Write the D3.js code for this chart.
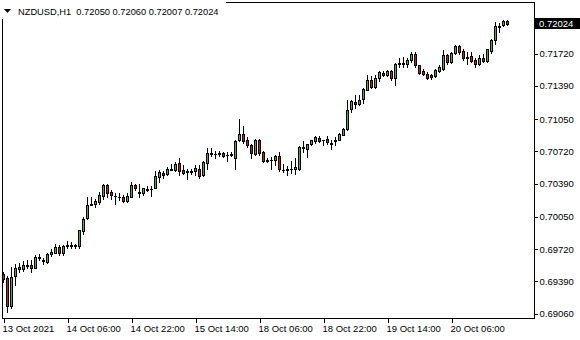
<!DOCTYPE html>
<html>
<head>
<meta charset="utf-8">
<script src="https://cdn.jsdelivr.net/npm/d3@7"></script>
<style>
  body { margin: 0; background: #fff; }
  svg { display: block; font-family: 'Liberation Sans', Arial, sans-serif; }
</style>
</head>
<body>
<svg id="chart"></svg>
<script>
// NZDUSD H1 bars, 13 Oct 14:00 .. 20 Oct 20:00
var opens = [0.69462,0.69426,0.69135,0.69442,0.69518,0.69518,0.69549,0.69559,0.69528,0.69631,
  0.69600,0.69590,0.69667,0.69682,0.69741,0.69677,0.69748,0.69754,0.69754,0.69748,
  0.69907,0.70032,0.70173,0.70185,0.70204,0.70265,0.70372,0.70301,0.70260,0.70255,
  0.70250,0.70216,0.70255,0.70372,0.70291,0.70288,0.70326,0.70332,0.70347,0.70459,
  0.70502,0.70485,0.70531,0.70526,0.70601,0.70526,0.70505,0.70511,0.70519,0.70543,
  0.70475,0.70601,0.70690,0.70693,0.70690,0.70703,0.70679,0.70684,0.70656,0.70833,
  0.70894,0.70833,0.70782,0.70690,0.70840,0.70710,0.70623,0.70631,0.70628,0.70669,
  0.70531,0.70531,0.70536,0.70543,0.70543,0.70751,0.70748,0.70789,0.70826,0.70860,
  0.70833,0.70843,0.70797,0.70828,0.70840,0.70891,0.70952,0.71157,0.71225,0.71201,
  0.71252,0.71351,0.71447,0.71378,0.71474,0.71525,0.71505,0.71542,0.71474,0.71615,
  0.71618,0.71617,0.71658,0.71720,0.71600,0.71542,0.71508,0.71498,0.71488,0.71542,
  0.71566,0.71702,0.71634,0.71726,0.71794,0.71746,0.71672,0.71692,0.71651,0.71610,
  0.71679,0.71644,0.71746,0.71856,0.71994,0.72009,0.72050];
var highs = [0.69482,0.69442,0.69534,0.69569,0.69580,0.69598,0.69605,0.69605,0.69656,0.69667,
  0.69631,0.69682,0.69715,0.69769,0.69759,0.69759,0.69800,0.69792,0.69776,0.69919,
  0.70048,0.70247,0.70247,0.70236,0.70304,0.70390,0.70390,0.70321,0.70288,0.70288,
  0.70270,0.70288,0.70406,0.70390,0.70380,0.70349,0.70362,0.70362,0.70519,0.70526,
  0.70519,0.70554,0.70594,0.70608,0.70656,0.70577,0.70543,0.70543,0.70577,0.70577,
  0.70621,0.70758,0.70758,0.70723,0.70723,0.70713,0.70713,0.70713,0.70840,0.71048,
  0.70976,0.70867,0.70799,0.70850,0.70850,0.70720,0.70656,0.70662,0.70679,0.70713,
  0.70587,0.70567,0.70621,0.70646,0.70771,0.70826,0.70799,0.70840,0.70874,0.70874,
  0.70840,0.70874,0.70840,0.70867,0.70907,0.70959,0.71242,0.71249,0.71293,0.71293,
  0.71372,0.71498,0.71488,0.71498,0.71542,0.71542,0.71549,0.71549,0.71624,0.71679,
  0.71685,0.71669,0.71736,0.71736,0.71607,0.71566,0.71532,0.71508,0.71566,0.71600,
  0.71753,0.71720,0.71736,0.71805,0.71805,0.71761,0.71736,0.71736,0.71669,0.71702,
  0.71720,0.71771,0.71873,0.72043,0.72033,0.72065,0.72060];
var lows = [0.69380,0.69073,0.69119,0.69349,0.69482,0.69498,0.69523,0.69488,0.69523,0.69610,
  0.69569,0.69580,0.69646,0.69674,0.69656,0.69656,0.69733,0.69733,0.69725,0.69728,
  0.69878,0.70022,0.70168,0.70150,0.70185,0.70236,0.70253,0.70236,0.70185,0.70219,
  0.70202,0.70202,0.70247,0.70321,0.70247,0.70270,0.70314,0.70260,0.70339,0.70406,
  0.70451,0.70475,0.70526,0.70519,0.70475,0.70485,0.70434,0.70485,0.70475,0.70451,
  0.70465,0.70543,0.70669,0.70646,0.70669,0.70662,0.70621,0.70669,0.70543,0.70826,
  0.70805,0.70764,0.70656,0.70679,0.70679,0.70611,0.70605,0.70543,0.70577,0.70519,
  0.70508,0.70475,0.70498,0.70492,0.70526,0.70713,0.70662,0.70779,0.70805,0.70815,
  0.70782,0.70799,0.70738,0.70782,0.70833,0.70884,0.70942,0.71122,0.71167,0.71191,
  0.71218,0.71344,0.71372,0.71372,0.71439,0.71488,0.71488,0.71454,0.71395,0.71583,
  0.71583,0.71583,0.71634,0.71583,0.71515,0.71498,0.71464,0.71460,0.71480,0.71532,
  0.71549,0.71610,0.71624,0.71713,0.71720,0.71651,0.71617,0.71634,0.71577,0.71600,
  0.71634,0.71634,0.71726,0.71822,0.71941,0.71999,0.72007];
var closes = [0.69411,0.69140,0.69436,0.69528,0.69539,0.69554,0.69559,0.69528,0.69641,0.69641,
  0.69605,0.69667,0.69690,0.69741,0.69674,0.69748,0.69764,0.69764,0.69759,0.69912,
  0.70030,0.70175,0.70183,0.70209,0.70270,0.70372,0.70296,0.70270,0.70265,0.70250,
  0.70216,0.70260,0.70372,0.70345,0.70301,0.70342,0.70337,0.70337,0.70465,0.70508,
  0.70482,0.70543,0.70541,0.70594,0.70519,0.70502,0.70516,0.70521,0.70549,0.70465,
  0.70605,0.70697,0.70700,0.70695,0.70700,0.70672,0.70684,0.70690,0.70826,0.70894,
  0.70826,0.70782,0.70697,0.70840,0.70697,0.70621,0.70633,0.70635,0.70669,0.70543,
  0.70533,0.70536,0.70541,0.70560,0.70764,0.70761,0.70789,0.70833,0.70867,0.70826,
  0.70831,0.70815,0.70802,0.70838,0.70901,0.70952,0.71147,0.71235,0.71201,0.71249,
  0.71355,0.71447,0.71378,0.71474,0.71532,0.71505,0.71542,0.71474,0.71617,0.71621,
  0.71614,0.71658,0.71720,0.71600,0.71521,0.71508,0.71474,0.71477,0.71549,0.71577,
  0.71702,0.71634,0.71726,0.71794,0.71736,0.71669,0.71687,0.71644,0.71610,0.71679,
  0.71644,0.71761,0.71863,0.71999,0.72004,0.72052,0.72024];

var timeTickBars = [0, 16, 32, 48, 64, 80, 96, 112];
var timeLabels = ['13 Oct 2021', '14 Oct 06:00', '14 Oct 22:00', '15 Oct 14:00',
  '18 Oct 06:00', '18 Oct 22:00', '19 Oct 14:00', '20 Oct 06:00'];
var priceTicks = [0.69060, 0.69390, 0.69720, 0.70050, 0.70390, 0.70720, 0.71050, 0.71390, 0.71720];
var symbol = 'NZDUSD,H1';

var width = 580;
var height = 340;
var bull = '#3cb043';
var bear = '#d01818';

var bars = closes.map(function (c, i) {
  return {i: i, o: opens[i], h: highs[i], l: lows[i], c: c};
});

var svg = d3.select('#chart')
  .attr('width', width)
  .attr('height', height);

// scales: one bar every 4px, price axis fixed from the tick spacing
var x = d3.scaleLinear().domain([0, bars.length - 1]).range([3, 3 + 4 * (bars.length - 1)]);
var y = d3.scaleLinear().domain([0.69060, 0.71720]).range([313.5, 53.5]);
var py = function (v) { return Math.round(y(v)); };

var plot = svg.append('g').attr('shape-rendering', 'crispEdges');

// wicks
plot.selectAll('rect.wick')
  .data(bars)
  .enter()
    .append('rect')
    .attr('class', 'wick')
    .attr('x', function (d) { return x(d.i); })
    .attr('y', function (d) { return py(d.h); })
    .attr('width', 1)
    .attr('height', function (d) { return py(d.l) - py(d.h) + 1; })
    .attr('fill', '#000');

// body outline
plot.selectAll('rect.body')
  .data(bars)
  .enter()
    .append('rect')
    .attr('class', 'body')
    .attr('x', function (d) { return x(d.i) - 1; })
    .attr('y', function (d) { return py(Math.max(d.o, d.c)); })
    .attr('width', 3)
    .attr('height', function (d) { return py(Math.min(d.o, d.c)) - py(Math.max(d.o, d.c)) + 1; })
    .attr('fill', '#000');

// body fill
plot.selectAll('rect.fill')
  .data(bars.filter(function (d) { return py(Math.min(d.o, d.c)) - py(Math.max(d.o, d.c)) > 1; }))
  .enter()
    .append('rect')
    .attr('class', 'fill')
    .attr('x', function (d) { return x(d.i); })
    .attr('y', function (d) { return py(Math.max(d.o, d.c)) + 1; })
    .attr('width', 1)
    .attr('height', function (d) { return py(Math.min(d.o, d.c)) - py(Math.max(d.o, d.c)) - 1; })
    .attr('fill', function (d) { return d.c >= d.o ? bull : bear; });

// frame
svg.append('rect')
  .attr('x', 2.5).attr('y', 2.5)
  .attr('width', 532).attr('height', 316)
  .attr('fill', 'none')
  .attr('stroke', '#000')
  .attr('shape-rendering', 'crispEdges');

// price axis
var yAxis = svg.append('g')
  .attr('transform', 'translate(534.5,0)')
  .call(d3.axisRight(y).tickValues(priceTicks).tickSize(3).tickPadding(2).tickFormat(d3.format('.5f')));
yAxis.select('.domain').remove();
yAxis.selectAll('text').attr('font-size', '9.5px').attr('font-family', "'Liberation Sans', Arial, sans-serif").attr('fill', '#000');
yAxis.selectAll('line').attr('shape-rendering', 'crispEdges');

// time axis
var xAxis = svg.append('g')
  .attr('transform', 'translate(0.5,318.5)')
  .call(d3.axisBottom(x).tickValues(timeTickBars).tickSize(4)
    .tickFormat(function (d, i) { return timeLabels[i]; }));
xAxis.select('.domain').remove();
xAxis.selectAll('text')
  .attr('text-anchor', 'start')
  .attr('dx', -1.5)
  .attr('y', 7)
  .attr('font-size', '9.5px')
  .attr('font-family', "'Liberation Sans', Arial, sans-serif")
  .attr('fill', '#000');
xAxis.selectAll('line').attr('shape-rendering', 'crispEdges');

// current price marker
var last = bars[bars.length - 1];
svg.append('rect')
  .attr('x', 535).attr('y', py(last.c) - 6)
  .attr('width', 45).attr('height', 11)
  .attr('fill', '#000');
svg.append('text')
  .attr('x', 539).attr('y', py(last.c) + 3)
  .attr('font-size', '9.5px')
  .attr('fill', '#fff')
  .text(d3.format('.5f')(last.c));

// header
svg.append('rect')
  .attr('x', 0).attr('y', 0)
  .attr('width', 226).attr('height', 19)
  .attr('fill', '#fff');
svg.append('path')
  .attr('d', 'M4,9L11,9L7.5,13Z')
  .attr('fill', '#000');
svg.append('text')
  .attr('x', 18).attr('y', 15)
  .attr('font-size', '9.3px')
  .attr('fill', '#000')
  .style('white-space', 'pre')
  .text(symbol + '  ' + [last.o, last.h, last.l, last.c].map(d3.format('.5f')).join(' '));
</script>
</body>
</html>
